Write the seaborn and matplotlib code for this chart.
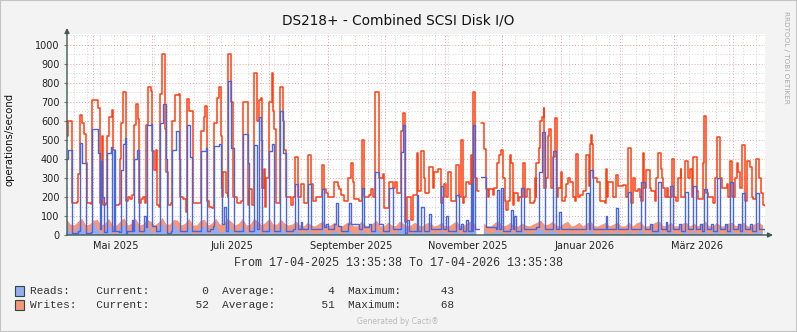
import numpy as np
import pandas as pd
import matplotlib
matplotlib.use("Agg")
import matplotlib.pyplot as plt
import seaborn as sns
from matplotlib.patches import Rectangle

sns.set_style("white")
plt.rcParams["font.family"] = ["DejaVu Sans"]

# ---------------- data ----------------
title = "DS218+ - Combined SCSI Disk I/O"
y_label = "operations/second"
start_time = "2025-04-17 13:35:38"
period_text = "From 17-04-2025 13:35:38 To 17-04-2026 13:35:38"
month_labels = ["Mai 2025", "Juli 2025", "September 2025", "November 2025", "Januar 2026", "März 2026"]
label_months = ["2025-05-01", "2025-07-01", "2025-09-01", "2025-11-01", "2026-01-01", "2026-03-01"]
y_ticks = [0, 100, 200, 300, 400, 500, 600, 700, 800, 900, 1000]

# writes (peak) line: (day offset, ops/s); nan = gap in data
writes_peak = [
    (0, 520), (0.5, 600), (2.4, 600), (2.8, 170), (5.4, 175), (5.9, 320), (6.8, 630), (8, 590), (8.9, 530),
    (9.8, 380), (10.6, 170), (12.4, 165), (13.3, 710), (15.9, 710), (16.4, 670), (17.1, 170), (18.1, 520),
    (19, 160), (20.3, 170), (21.1, 520), (22, 620), (23.4, 660), (24.2, 450), (25, 160), (27, 165),
    (27.6, 400), (28.4, 590), (29.3, 750), (30.4, 750), (30.9, 180), (31.8, 200), (33, 190), (34.2, 210),
    (35.2, 580), (36.3, 690), (37.2, 610), (37.9, 170), (38.8, 190), (40, 200), (40.8, 170), (41.5, 580),
    (42.4, 780), (43.2, 780), (43.8, 760), (44.7, 440), (45.5, 340), (46.4, 450), (47.3, 160), (48.2, 150),
    (48.7, 740), (49.6, 955), (50.5, 955), (51.3, 560), (52, 330), (53, 160), (54.2, 170), (55.1, 600),
    (56.3, 735), (58.6, 740), (59, 200), (60.5, 190), (62, 120), (62.6, 190), (63, 715), (64, 650),
    (65.6, 650), (66, 170), (69.6, 170), (70.3, 550), (71.4, 620), (72, 680), (72.6, 680), (73, 180),
    (74.5, 150), (76, 140), (77, 590), (78.3, 720), (79.5, 780), (80.4, 520), (81, 200), (81.8, 330),
    (83, 220), (84, 200), (84.4, 950), (85.3, 950), (85.7, 700), (86.5, 700), (87, 200), (89, 170),
    (91, 180), (91.8, 700), (94, 700), (94.4, 160), (95.3, 240), (96.5, 160), (97.9, 850), (98.8, 850),
    (99.6, 600), (100.5, 710), (101.7, 720), (102.2, 250), (102.8, 350), (103.5, 150), (104.2, 300),
    (105.7, 700), (107, 850), (107.6, 650), (108.4, 560), (109.2, 170), (110.5, 170), (111.5, 780),
    (112.2, 780), (112.7, 600), (113.6, 450), (114.5, 200), (116.2, 200), (117, 160), (118, 200),
    (119.3, 410), (119.7, 410), (120.6, 200), (122.3, 270), (124, 170), (125.8, 420), (127, 420),
    (127.5, 270), (128.4, 180), (129.3, 180), (130, 200), (132, 200), (133.3, 370), (133.6, 370),
    (134.2, 240), (135.4, 220), (136.3, 200), (138, 200), (139.8, 280), (141.5, 260), (142.4, 240),
    (143.2, 210), (144, 210), (145, 180), (145.9, 180), (146.7, 300), (148.5, 380), (149.3, 280),
    (150.2, 190), (152.8, 180), (154.2, 500), (155, 500), (155.5, 200), (158.1, 210), (159, 240),
    (160.2, 200), (161.2, 750), (162.3, 750), (163, 300), (165, 320), (165.9, 140), (167.7, 140),
    (168.5, 280), (169.4, 280), (170.3, 250), (171.7, 280), (172.4, 220), (173.4, 220), (174.7, 550),
    (175.5, 640), (176.4, 640), (176.9, 70), (177.8, 200), (179, 200), (180, 80), (180.8, 210),
    (182.5, 210), (182.9, 430), (183.4, 230), (184.3, 230), (185.1, 440), (186, 440), (186.5, 300),
    (187.2, 220), (188.6, 220), (189.5, 360), (190.4, 360), (191.2, 250), (191.8, 330), (193, 330),
    (193.9, 350), (194.7, 350), (195.6, 170), (196.5, 200), (197.3, 270), (198.2, 200), (199.1, 330),
    (200, 330), (200.8, 180), (202.6, 180), (203.4, 370), (204.3, 370), (205.2, 200), (206, 500),
    (207, 170), (207.8, 200), (208.7, 280), (210.4, 270), (211, 420), (211.6, 150), (212.2, 750),
    (213.4, 750), (213.6, 300), (214.4, 230), (215.3, 230), (215.8, np.nan), (216.5, 590), (217.6, 590),
    (218.3, 455), (219.2, 240), (220, 200), (220.9, 240), (222.6, 210), (223.5, 250), (224.9, 380),
    (226.1, 420), (227, 450), (227.9, 300), (228.8, 180), (229.7, 130), (230.5, 180), (231.4, 420),
    (232.2, 380), (233.1, 160), (234, 220), (235.7, 180), (236.6, 200), (238.3, 380), (239.2, 380),
    (239.7, 200), (240.4, 240), (241.8, 240), (242.2, 170), (244, 180), (244.5, 300), (245, 200),
    (245.3, 380), (246.2, 380), (246.7, 457), (247.4, 600), (248.5, 620), (249.2, 670), (249.5, 250),
    (250.6, 300), (251.4, 520), (252.1, 560), (253.2, 250), (254, 410), (254.9, 410), (255.3, 615),
    (255.8, 615), (256.2, 200), (256.7, 250), (258.4, 330), (258.9, 180), (260.2, 200), (261, 270),
    (261.9, 300), (262.8, 280), (264.5, 200), (265.4, 180), (266.3, 425), (267.1, 200), (268, 210),
    (269.8, 230), (271.5, 420), (272.4, 420), (272.9, 260), (273.6, 480), (274.2, 525), (274.6, 480),
    (275, 300), (275.9, 300), (277.1, 280), (277.6, 280), (278.5, 180), (281.1, 170), (281.6, 350),
    (282.3, 200), (282.8, 280), (284.6, 280), (285.5, 200), (286.9, 315), (287.6, 315), (288.1, 260),
    (289.8, 260), (290.7, 265), (291.6, 265), (292.4, 200), (293.3, 457), (294.2, 457), (295, 170),
    (295.9, 300), (296.8, 230), (298.5, 240), (299.5, 200), (300.4, 180), (301.3, 430), (301.8, 250),
    (303, 340), (303.9, 340), (304.8, 250), (305.6, 230), (306.5, 230), (307.4, 180), (308.2, 300),
    (309.1, 430), (310, 430), (310.5, 350), (310.9, 300), (311.7, 250), (312.6, 200), (313.5, 250),
    (314.4, 200), (316.1, 200), (316.4, 400), (317.5, 200), (318.7, 180), (319.6, 300), (320.5, 300),
    (321, 350), (321.3, 200), (322.2, 200), (323.1, 390), (324, 390), (324.8, 300), (325.7, 350),
    (326.6, 200), (327.4, 410), (328.3, 410), (329.2, 230), (330, 190), (331.8, 190), (332.7, 380),
    (333.2, 625), (333.9, 625), (334.4, 220), (335.3, 200), (337.9, 170), (338.8, 300), (339.7, 515),
    (340.5, 515), (341.4, 300), (342.3, 250), (344.9, 270), (345.8, 200), (346.6, 390), (347.5, 390),
    (348, 200), (349.3, 300), (350.2, 380), (351, 330), (351.9, 250), (353.1, 475), (353.8, 475),
    (354.5, 180), (355.4, 390), (357.1, 360), (358, 200), (358.8, 190), (360.1, 400), (361.1, 400),
    (361.8, 300), (362.9, 220), (364.1, 160), (365, 155),
]

# reads (peak) line
reads_peak = [
    (0, 400), (0.5, 450), (2.4, 420), (2.8, 10), (5.9, 20), (6.8, 485), (7.5, 485), (8, 380), (9.2, 380),
    (9.8, 10), (12.4, 15), (13.3, 560), (15.3, 560), (16.4, 430), (17, 30), (17.8, 390), (18.5, 200),
    (19.4, 15), (20.2, 15), (21.1, 430), (22.9, 465), (23.7, 20), (24.5, 447), (25.1, 20), (27.2, 15),
    (28.1, 340), (29.3, 480), (30.3, 510), (30.7, 10), (31.6, 20), (33.8, 80), (34.5, 20), (35.2, 400),
    (36.8, 450), (37.7, 20), (40.3, 100), (41.2, 40), (42, 580), (43.8, 585), (44.7, 50), (46.4, 20),
    (48.2, 20), (48.7, 590), (50, 690), (51.3, 690), (52, 400), (52.5, 10), (54.5, 20), (55.1, 450),
    (56.9, 550), (58.6, 400), (59, 20), (62, 20), (63, 580), (64.4, 410), (65.6, 20), (69.6, 20),
    (70.3, 440), (72.6, 460), (73, 20), (75, 30), (76.6, 50), (77, 470), (79.5, 480), (80.4, 250),
    (81.3, 60), (82.2, 150), (83, 20), (84, 20), (84.4, 810), (85.3, 810), (85.7, 460), (86.5, 460),
    (87.4, 20), (91, 20), (91.8, 530), (93.5, 530), (94.4, 380), (95.3, 20), (97, 20), (97.9, 475),
    (98.8, 475), (99.6, 30), (100.5, 620), (101.7, 500), (102.2, 20), (104, 20), (105.7, 440),
    (107.4, 480), (108.4, 20), (110.5, 20), (111.5, 650), (112.7, 650), (113.2, 430), (114.5, 20),
    (118, 30), (119.3, 270), (120, 270), (120.6, 30), (122.3, 70), (123, 30), (125.8, 270), (127, 270),
    (127.5, 30), (133, 30), (133.3, 240), (134, 240), (134.5, 40), (135.4, 60), (136.3, 30), (139.8, 60),
    (140.6, 170), (141.5, 50), (142.4, 50), (143.2, 20), (146.7, 60), (147.6, 170), (148.5, 60),
    (152.8, 30), (154.2, 250), (155, 250), (155.5, 40), (158.1, 60), (159, 20), (161.2, 330),
    (162.3, 330), (163, 60), (164.2, 60), (165, 20), (168.5, 250), (169.4, 250), (170.3, 30),
    (174.7, 437), (175.5, 580), (176.4, 580), (176.9, 10), (177.8, 80), (179, 20), (182.5, 20),
    (182.9, 210), (183.4, 20), (185.1, 150), (186, 150), (186.5, 20), (189.5, 110), (190.4, 30),
    (195.6, 260), (196.5, 30), (198.2, 100), (199.1, 20), (203.4, 210), (204.3, 210), (205.2, 30),
    (206, 60), (207, 20), (208.7, 80), (209.5, 20), (211, 270), (211.6, 20), (212.2, 580), (213.4, 580),
    (213.6, 30), (215.3, 30), (215.8, np.nan), (216.5, 305), (218.3, 305), (219.2, 40), (224.4, 30),
    (224.9, 235), (225.3, 235), (226, 30), (227, 250), (227.9, 20), (231.4, 30), (232.2, 130),
    (233.1, 30), (234, 100), (235, 20), (237.5, 250), (238.3, 250), (239, 30), (241, 30), (245.3, 40),
    (246.7, 330), (247.4, 330), (248.5, 540), (249.2, 540), (249.7, 30), (253.5, 30), (254, 440),
    (255.4, 440), (255.8, 30), (257.5, 120), (258.4, 30), (264, 30), (271.5, 220), (272.4, 220),
    (273, 30), (273.6, 340), (274.6, 340), (275.2, 30), (281.6, 100), (282.3, 30), (286.9, 140),
    (287.6, 140), (288.2, 30), (293.3, 226), (294.2, 226), (295, 30), (300.4, 280), (301.3, 280),
    (302, 30), (305, 60), (306, 20), (309.1, 280), (310, 280), (310.8, 30), (313, 70), (314, 20),
    (315.3, 260), (316.2, 260), (317, 30), (320, 60), (321, 20), (323.1, 226), (324, 226), (324.8, 30),
    (327.4, 260), (328.3, 260), (329, 30), (331, 60), (332, 20), (333.2, 243), (333.9, 243),
    (334.6, 30), (337, 60), (338, 20), (339.7, 300), (340.5, 300), (341.3, 30), (344, 60), (345, 20),
    (346.6, 280), (347.8, 280), (348.5, 30), (351, 60), (352, 20), (353.1, 220), (354.1, 220),
    (354.8, 30), (357, 60), (358, 20), (360.1, 220), (361.1, 220), (361.8, 30), (365, 10),
]

# averaged writes area, one value per 2 days
writes_avg = [
    80, 55, 50, 70, 85, 50, 55, 75, 80, 50, 60, 85, 50, 50, 70, 88, 50, 60, 85, 50,
    55, 80, 70, 50, 65, 90, 55, 55, 80, 75, 50, 60, 85, 50, 50, 75, 80, 50, 60, 85,
    55, 55, 85, 70, 50, 60, 85, 50, 55, 85, 70, 50, 65, 85, 55, 55, 80, 60, 50, 55,
    70, 50, 45, 65, 50, 45, 60, 70, 45, 50, 65, 50, 45, 60, 70, 45, 45, 70, 50, 45,
    60, 75, 45, 45, 65, 50, 45, 70, 60, 45, 50, 65, 50, 45, 60, 65, 45, 50, 65, 45,
    45, 60, 70, 45, 50, 65, 75, 45, np.nan, 60, 45, 45, 65, 70, 45, 50, 65, 45, 45, 60,
    50, 45, 55, 65, 75, 50, 55, 70, 50, 45, 60, 70, 45, 50, 65, 45, 60, 70, 45, 45,
    55, 65, 45, 55, 65, 45, 45, 65, 45, 60, 70, 45, 45, 55, 65, 70, 45, 50, 65, 45,
    45, 60, 65, 45, 60, 45, 55, 70, 45, 45, 65, 45, 45, 60, 65, 45, 55, 65, 45, 45,
    60, 65, 50,
]

# averaged reads area, one value per 2 days
reads_avg = [
    60, 10, 5, 40, 50, 5, 10, 60, 30, 5, 20, 55, 10, 5, 40, 55, 5, 15, 50, 5,
    10, 55, 20, 5, 40, 60, 10, 10, 55, 30, 5, 15, 50, 5, 5, 40, 45, 5, 15, 50,
    15, 10, 60, 30, 5, 15, 50, 10, 10, 50, 40, 5, 15, 45, 10, 10, 50, 15, 5, 10,
    30, 10, 5, 25, 10, 5, 10, 25, 5, 10, 20, 10, 5, 15, 25, 5, 5, 25, 10, 5,
    15, 30, 10, 5, 20, 10, 5, 35, 40, 10, 5, 20, 10, 15, 10, 15, 5, 10, 20, 10,
    5, 10, 20, 5, 10, 15, 35, 10, np.nan, 25, 10, 5, 20, 20, 5, 10, 15, 10, 15, 20,
    10, 5, 10, 25, 35, 10, 10, 30, 10, 10, 5, 15, 5, 10, 10, 5, 20, 25, 5, 5,
    10, 15, 5, 10, 15, 5, 5, 20, 5, 10, 25, 10, 5, 10, 15, 25, 5, 10, 20, 5,
    5, 10, 20, 5, 20, 5, 10, 20, 5, 10, 25, 5, 5, 15, 20, 5, 10, 20, 5, 5,
    15, 20, 5,
]

legend_reads = ("Reads:", "0", "4", "43")
legend_writes = ("Writes:", "52", "51", "68")

# ---------------- styling ----------------
BG = "#F3F3F3"
AXIS = "#3A5A50"
RED = "#FF4010"
BLUE = "#4566DE"
SALMON = "#F7977A"
LIGHTBLUE = "#96ACF0"
MGRID = "#E9A3A3"
GRID = "#D4D4D4"

W, H = 797, 332
fig = plt.figure(figsize=(W / 100, H / 100), dpi=100, facecolor=BG)
L, R, B, T = 67, 765, 235, 34
ax = fig.add_axes([L / W, 1 - B / H, (R - L) / W, (B - T) / H])
ax.set_facecolor("white")
XMAX = 365.0
YMAX = 1000 + (45 - T) / 0.19
ax.set_xlim(0, XMAX)
ax.set_ylim(0, YMAX)
for s in ax.spines.values():
    s.set_visible(False)

t0 = pd.Timestamp(start_time)
day = pd.Timedelta(days=1)

# vertical grid: weekly (grey) and monthly (red)
weeks = pd.date_range(t0.normalize(), t0 + XMAX * day, freq="W-MON")
months = pd.date_range(t0.normalize(), t0 + XMAX * day, freq="MS")
dots = (0, (1, 2))
for w in weeks:
    d = (w - t0) / day
    if 0 < d < XMAX:
        ax.axvline(d, color=GRID, lw=0.7, ls=dots, zorder=0.5)
for m in months:
    d = (m - t0) / day
    if 0 < d < XMAX:
        ax.axvline(d, color=MGRID, lw=0.7, ls=dots, zorder=0.6)
for v in np.arange(50, YMAX, 50):
    major = (v % 100 == 0)
    ax.axhline(v, color=MGRID if major else GRID, lw=0.7, ls=dots, zorder=0.6 if major else 0.5)

# areas
d2 = np.arange(len(writes_avg)) * 2.0
ax.fill_between(d2, 0, np.array(writes_avg, float), color=SALMON, lw=0, zorder=2)
d2r = np.arange(len(reads_avg)) * 2.0
ax.fill_between(d2r, 0, np.array(reads_avg, float), color=LIGHTBLUE, lw=0, zorder=2.1)


def seg_frame(points):
    df = pd.DataFrame(points, columns=["day", "ops"])
    df["seg"] = df["ops"].isna().cumsum()
    return df.dropna()


sns.lineplot(data=seg_frame(writes_peak), x="day", y="ops", units="seg", estimator=None,
             sort=False, color=RED, lw=1.1, ax=ax, legend=False, zorder=3, drawstyle="steps-post")
sns.lineplot(data=seg_frame(reads_peak), x="day", y="ops", units="seg", estimator=None,
             sort=False, color=BLUE, lw=1.0, ax=ax, legend=False, zorder=3.1, drawstyle="steps-post")
ax.set_xlim(0, XMAX)
ax.set_ylim(0, YMAX)
ax.set_xlabel("")
ax.set_ylabel("")

# ticks
ax.set_yticks(y_ticks)
ax.set_yticklabels([str(v) for v in y_ticks], fontsize=7, color="#222222")
ax.tick_params(axis="y", length=2.5, width=0.8, color="#777777", pad=3, left=True)
lab_pos = [(pd.Timestamp(m) - t0) / day + 12 for m in label_months]
ax.set_xticks(lab_pos)
ax.set_xticklabels(month_labels, fontsize=7.1, color="#222222")
ax.tick_params(axis="x", length=0, pad=4)

# axis arrows
arrow = dict(arrowstyle="-|>", color=AXIS, lw=1.0, mutation_scale=7, shrinkA=0, shrinkB=0)
ax.annotate("", xy=(0, 1 + 6 / (B - T)), xytext=(0, 0), xycoords="axes fraction",
            arrowprops=arrow, annotation_clip=False, zorder=5)
ax.annotate("", xy=(1 + 8 / (R - L), 0), xytext=(0, 0), xycoords="axes fraction",
            arrowprops=arrow, annotation_clip=False, zorder=5)

# texts
fig.text(0.5, 1 - 21 / H, title, ha="center", va="center", fontsize=9.8, color="#111111")
fig.text(10 / W, 1 - 139 / H, y_label, rotation=90, ha="center", va="center", fontsize=7.3, color="#111111")
mono = "Liberation Mono"
fig.text(398 / W, 1 - 263 / H, period_text, ha="center", va="center", fontsize=8.5, family=mono, color="#333333")


def legend_line(name, cur, avg, mx):
    return f"{name:<10}Current:{cur:>9}  Average:{avg:>9}  Maximum:{mx:>8}"


for i, (entry, col) in enumerate([(legend_reads, LIGHTBLUE), (legend_writes, SALMON)]):
    yc = 291 + 14 * i
    fig.patches.append(Rectangle((15 / W, 1 - (yc + 5) / H), 9 / W, 10 / H, transform=fig.transFigure,
                                 facecolor=col, edgecolor="#2A4A40", lw=0.8))
    fig.text(30 / W, 1 - yc / H, legend_line(*entry), ha="left", va="center", fontsize=8.0,
             family=mono, color="#333333")

fig.text(398 / W, 1 - 321 / H, "Generated by Cacti®", ha="center", va="center", fontsize=5.5, color="#BBBBBB")
fig.text(786 / W, 1 - 57 / H, "RRDTOOL / TOBI OETIKER", rotation=270, ha="center", va="center",
         fontsize=5.2, color="#AAAAAA")

fig.patches.append(Rectangle((0, 0), 1, 1, transform=fig.transFigure, fill=False,
                             edgecolor="#C4C4C4", lw=1.5))

fig.savefig("out.png", dpi=100, facecolor=BG)
